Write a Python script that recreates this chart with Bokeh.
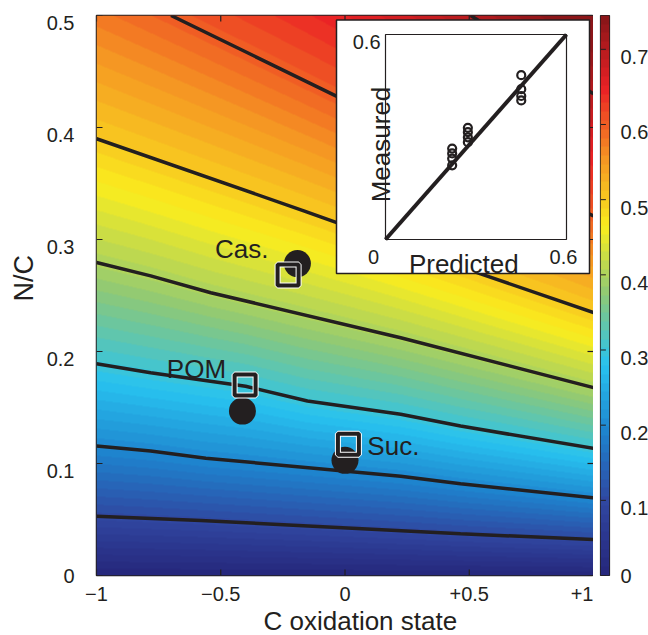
import numpy as np
from bokeh.plotting import figure
from bokeh.models import Range1d, LinearAxis, FixedTicker, LinearColorMapper, Title
from bokeh.layouts import row
from bokeh.embed import file_html
from bokeh.resources import INLINE
from bokeh.core.properties import value

# ---------------- data ----------------
levels = [0.1, 0.2, 0.3, 0.4, 0.5, 0.6, 0.7]
c1_x = [-1.0, -0.58, 0.345, 0.465, 1.0]
c1_nc = [0.0530, 0.0491, 0.0387, 0.0372, 0.0322]
c2_x = [-1.0, -0.782, -0.56, 0.224, 0.465, 1.0]
c2_nc = [0.1156, 0.1111, 0.1047, 0.0887, 0.0819, 0.0693]
c3_x = [-1.0, -0.782, -0.40, -0.151, 0.224, 0.465, 1.0]
c3_nc = [0.1891, 0.1811, 0.1690, 0.1558, 0.1439, 0.1334, 0.1135]
c4_x = [-1.0, -0.782, -0.54, 0.224, 1.0]
c4_nc = [0.2794, 0.2675, 0.2525, 0.2123, 0.1677]
c5_x = [-1.0, -0.166, 0.546, 1.0]
c5_nc = [0.390, 0.3256, 0.2693, 0.2347]
c6_x = [-0.7, -0.037, 1.0]
c6_nc = [0.5, 0.4283, 0.3211]
c7_x = [0.506, 1.0]
c7_nc = [0.5, 0.4301]

names = ["Cas.", "POM", "Suc."]
meas_x = [-0.1915, -0.4127, 0.0]
meas_nc = [0.2785, 0.1468, 0.1028]
pred_x = [-0.229, -0.402, 0.0137]
pred_nc = [0.2684, 0.1701, 0.1171]

inset_pred = [0.221, 0.221, 0.221, 0.221, 0.273, 0.273, 0.273, 0.273, 0.450, 0.450, 0.450, 0.450]
inset_meas = [0.266, 0.252, 0.237, 0.217, 0.327, 0.314, 0.299, 0.285, 0.481, 0.440, 0.420, 0.407]

x_ticks = [-1, -0.5, 0, 0.5, 1]
x_tick_labels = ["\u22121", "\u22120.5", "0", "+0.5", "+1"]
y_ticks = [0, 0.1, 0.2, 0.3, 0.4, 0.5]
y_tick_labels = ["0", "0.1", "0.2", "0.3", "0.4", "0.5"]
cb_ticks = [0, 0.1, 0.2, 0.3, 0.4, 0.5, 0.6, 0.7]
cb_tick_labels = ["0", "0.1", "0.2", "0.3", "0.4", "0.5", "0.6", "0.7"]
cb_max = 0.745

# ---------------- style / layout ----------------
FONT = "Liberation Sans"
INK = "#231f20"
FR_W, FR_H = 497, 560
BL, BT, BB = 96, 15, 60
FR_L, FR_R, FR_T, FR_B = 96.0, 593.0, 15.0, 575.0       # frame in page pixels
IN_L, IN_R, IN_T, IN_B = 385.0, 566.0, 34.0, 239.0      # inset axes
BOX_L, BOX_R, BOX_T, BOX_B = 336.0, 589.0, 19.5, 273.0  # inset white box
TICK = 6.0

anchor_t = [0, 0.125, 0.25, 0.375, 0.5, 0.625, 0.75, 0.875, 1.0]
anchor_rgb = [(38, 40, 125), (48, 70, 160), (30, 130, 205), (40, 195, 240), (140, 200, 120),
              (250, 237, 30), (245, 148, 35), (234, 33, 37), (140, 22, 25)]
pal = []
for t in np.linspace(0, 1, 64):
    rgb = [int(round(np.interp(t, anchor_t, [c[k] for c in anchor_rgb]))) for k in range(3)]
    pal.append("#%02x%02x%02x" % tuple(rgb))
mapper = LinearColorMapper(palette=pal, low=0, high=cb_max)

# ---------------- field from the contour lines ----------------
cont_x = [c1_x, c2_x, c3_x, c4_x, c5_x, c6_x, c7_x]
cont_nc = [c1_nc, c2_nc, c3_nc, c4_nc, c5_nc, c6_nc, c7_nc]


def line_at(xs, ys, x):
    xs = np.asarray(xs, float)
    ys = np.asarray(ys, float)
    v = np.interp(x, xs, ys)
    lo = x < xs[0]
    v[lo] = ys[0] + (x[lo] - xs[0]) * (ys[1] - ys[0]) / (xs[1] - xs[0])
    hi = x > xs[-1]
    v[hi] = ys[-1] + (x[hi] - xs[-1]) * (ys[-1] - ys[-2]) / (xs[-1] - xs[-2])
    return v


nx, ny = FR_W, FR_H
gx = -1 + (np.arange(nx) + 0.5) * 2.0 / nx
gy = (np.arange(ny) + 0.5) * 0.5 / ny
pos = np.array([line_at(cx, cn, gx) for cx, cn in zip(cont_x, cont_nc)])
F = np.empty((ny, nx))
f_knots = np.concatenate([[0.0], levels])
for i in range(nx):
    k = np.concatenate([[0.0], pos[:, i]])
    v = np.interp(gy, k, f_knots)
    top = gy > k[-1]
    slope = (f_knots[-1] - f_knots[-2]) / (k[-1] - k[-2])
    v[top] = f_knots[-1] + (gy[top] - k[-1]) * slope
    F[:, i] = v

# ---------------- main figure ----------------
p = figure(frame_width=FR_W, frame_height=FR_H, x_range=Range1d(-1, 1), y_range=Range1d(0, 0.5),
           min_border_left=BL, min_border_right=0, min_border_top=BT, min_border_bottom=BB,
           output_backend="svg", toolbar_location=None, y_axis_location=None)
p.grid.visible = False
p.outline_line_color = INK
p.outline_line_width = 1.5
p.background_fill_color = "white"
p.border_fill_color = "white"

iky = (IN_B - IN_T) / 0.6
ikx = (IN_R - IN_L) / 0.6
yoff = 7.0 / FR_H * 0.5
p.extra_y_ranges = {"ylab": Range1d(0 + yoff, 0.5 + yoff),
                    "iy": Range1d(-(FR_B - IN_B) / iky, 0.6 + (IN_T - FR_T) / iky)}
p.extra_x_ranges = {"ix": Range1d(-(IN_L - FR_L) / ikx, 0.6 + (FR_R - IN_R) / ikx)}

p.image(image=[F], x=-1, y=0, dw=2, dh=0.5, color_mapper=mapper)

for cx, cn in zip(cont_x, cont_nc):
    p.line(cx, cn, line_color=INK, line_width=3.5)

p.scatter(meas_x, meas_nc, marker="circle", size=27, fill_color=INK, line_color=None)
p.scatter(pred_x, pred_nc, marker="square", size=21, fill_color=None, line_color="white", line_width=6)
p.scatter(pred_x, pred_nc, marker="square", size=21, fill_color=None, line_color=INK, line_width=4)

lab_x = [-0.523, -0.717, 0.090]
lab_y = [0.2913, 0.1841, 0.1155]
p.text(x=lab_x, y=lab_y, text=names, text_font=value(FONT), text_font_size="26px",
       text_align="left", text_baseline="alphabetic", text_color=INK)

# inward tick marks on all four sides of the frame
dx = TICK * 2.0 / FR_W
dy = TICK * 0.5 / FR_H
nxt, nyt = len(x_ticks), len(y_ticks)
p.segment(x0=x_ticks, x1=x_ticks, y0=[0] * nxt, y1=[dy] * nxt, line_color=INK, line_width=1.2)
p.segment(x0=x_ticks, x1=x_ticks, y0=[0.5] * nxt, y1=[0.5 - dy] * nxt, line_color=INK, line_width=1.2)
p.segment(x0=[-1] * nyt, x1=[-1 + dx] * nyt, y0=y_ticks, y1=y_ticks, line_color=INK, line_width=1.2)
p.segment(x0=[1] * nyt, x1=[1 - dx] * nyt, y0=y_ticks, y1=y_ticks, line_color=INK, line_width=1.2)


def style_axis(ax, size="20px"):
    ax.axis_line_color = None
    ax.major_tick_line_color = None
    ax.minor_tick_line_color = None
    ax.major_label_text_font = FONT
    ax.major_label_text_color = INK
    ax.major_label_text_font_size = size


def shifted(ticks, off):
    # label positions on an offset range; the lowest one is kept at the range start
    return [max(t, off + 1e-9) for t in ticks]


xa = p.xaxis[0]
style_axis(xa)
xa.ticker = FixedTicker(ticks=x_ticks)
xa.major_label_overrides = dict(zip(x_ticks, x_tick_labels))
xa.major_label_standoff = 5

yl_ticks = shifted(y_ticks, yoff)
yl = LinearAxis(y_range_name="ylab", ticker=FixedTicker(ticks=yl_ticks))
style_axis(yl)
yl.major_label_overrides = dict(zip(yl_ticks, y_tick_labels))
yl.major_label_standoff = 16
p.add_layout(yl, "left")

# axis titles
p.add_layout(Title(text="C oxidation state", align="left", offset=263 - FR_L, standoff=0,
                   text_font=FONT, text_font_size="26px", text_font_style="normal",
                   text_color=INK), "below")
p.add_layout(Title(text="N/C", align="left", offset=FR_B - 301, text_font=FONT,
                   text_font_size="27px", text_font_style="normal", text_color=INK), "left")

# ---------------- inset ----------------
R = dict(x_range_name="ix", y_range_name="iy")
p.quad(left=[(BOX_L - IN_L) / ikx], right=[(BOX_R - IN_L) / ikx],
       bottom=[(IN_B - BOX_B) / iky], top=[(IN_B - BOX_T) / iky],
       fill_color="white", line_color=INK, line_width=1.5, **R)
p.quad(left=[0], right=[0.6], bottom=[0], top=[0.6], fill_color=None, line_color=INK,
       line_width=1.2, **R)
p.line([0, 0.6], [0, 0.6], line_color=INK, line_width=4, **R)
p.scatter(inset_pred, inset_meas, marker="circle", size=8, fill_color=None, line_color=INK,
          line_width=2.2, **R)
p.text(x=[(380 - IN_L) / ikx], y=[(IN_B - 41.7) / iky], text=["0.6"], text_font=value(FONT),
       text_font_size="20px", text_align="right", text_baseline="middle", text_color=INK, **R)
p.text(x=[(373 - IN_L) / ikx, (563 - IN_L) / ikx], y=[(IN_B - 256.7) / iky] * 2, text=["0", "0.6"],
       text_font=value(FONT), text_font_size="20px", text_align="center", text_baseline="middle",
       text_color=INK, **R)
p.text(x=[(463.3 - IN_L) / ikx], y=[(IN_B - 263.3) / iky], text=["Predicted"], text_font=value(FONT),
       text_font_size="26px", text_align="center", text_baseline="alphabetic", text_color=INK, **R)
p.text(x=[(380 - IN_L) / ikx], y=[(IN_B - 144) / iky], text=["Measured"], angle=np.pi / 2,
       text_font=value(FONT), text_font_size="26px", text_align="center",
       text_baseline="alphabetic", text_color=INK, **R)

# ---------------- colour bar ----------------
cb = figure(frame_width=9, frame_height=FR_H, x_range=Range1d(0, 1), y_range=Range1d(0, cb_max),
            min_border_left=7, min_border_right=0, min_border_top=BT, min_border_bottom=BB,
            output_backend="svg", toolbar_location=None, x_axis_location=None, y_axis_location=None)
cb.grid.visible = False
cb.outline_line_color = INK
cb.outline_line_width = 1.2
cb.border_fill_color = "white"
grad = np.linspace(0, cb_max, 640).reshape(640, 1)
cb.image(image=[grad], x=0, y=0, dw=1, dh=cb_max, color_mapper=mapper)
cb.segment(x0=[0] * len(cb_ticks), x1=[0.6] * len(cb_ticks), y0=cb_ticks, y1=cb_ticks,
           line_color=INK, line_width=1)
coff = 8.0 / FR_H * cb_max
cb.extra_y_ranges = {"lab": Range1d(coff, cb_max + coff)}
ca_ticks = shifted(cb_ticks, coff)
ca = LinearAxis(y_range_name="lab", ticker=FixedTicker(ticks=ca_ticks))
style_axis(ca)
ca.major_label_overrides = dict(zip(ca_ticks, cb_tick_labels))
ca.major_label_standoff = 5
cb.add_layout(ca, "right")

layout = row(p, cb)
open("out.html", "w").write(file_html(layout, INLINE))
